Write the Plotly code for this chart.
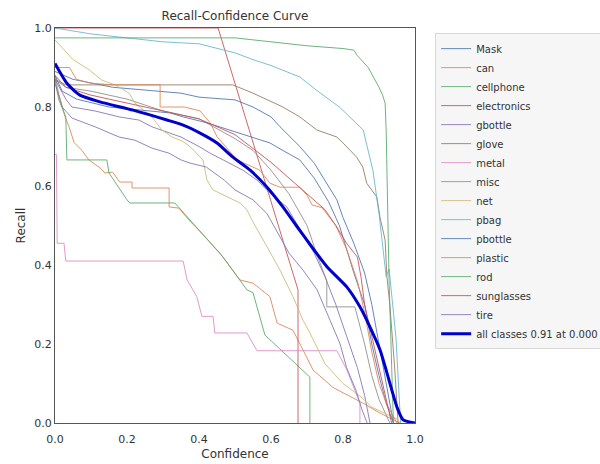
import plotly.graph_objects as go

# ---------------- data (confidence, recall) per class ----------------
CLASS_NAMES = ["Mask", "can", "cellphone", "electronics", "gbottle", "glove", "metal",
               "misc", "net", "pbag", "pbottle", "plastic", "rod", "sunglasses", "tire"]

MASK_CONF = [0, 0.05, 0.16, 0.35, 0.40, 0.50, 0.55, 0.60, 0.625, 0.68, 0.72, 0.755, 0.783, 0.80, 0.83, 0.86, 0.88, 0.90, 0.92, 0.94]
MASK_RECALL = [0.89, 0.87, 0.85, 0.835, 0.825, 0.818, 0.80, 0.775, 0.75, 0.70, 0.658, 0.607, 0.565, 0.52, 0.455, 0.38, 0.30, 0.20, 0.10, 0.0]

CAN_CONF = [0, 0.01, 0.028, 0.039, 0.053, 0.075, 0.094, 0.122, 0.139, 0.16, 0.18, 0.214, 0.214, 0.317, 0.317, 0.344, 0.372, 0.408, 0.458, 0.514, 0.55, 0.597, 0.617, 0.661, 0.689, 0.717, 0.772, 0.856, 0.903, 0.958]
CAN_RECALL = [0.88, 0.835, 0.775, 0.75, 0.71, 0.69, 0.666, 0.648, 0.633, 0.635, 0.61, 0.61, 0.595, 0.595, 0.547, 0.544, 0.514, 0.48, 0.43, 0.362, 0.354, 0.32, 0.253, 0.235, 0.185, 0.134, 0.09, 0.05, 0.025, 0.0]

CELLPHONE_CONF = [0, 0.01, 0.03, 0.033, 0.144, 0.15, 0.2, 0.208, 0.333, 0.375, 0.467, 0.533, 0.55, 0.583, 0.708, 0.708]
CELLPHONE_RECALL = [0.87, 0.82, 0.775, 0.666, 0.666, 0.633, 0.565, 0.557, 0.557, 0.514, 0.42, 0.337, 0.33, 0.223, 0.116, 0.0]

ELECTRONICS_CONF = [0, 0.453, 0.675, 0.675]
ELECTRONICS_RECALL = [1.0, 1.0, 0.337, 0.0]

GBOTTLE_CONF = [0, 0.03, 0.047, 0.111, 0.178, 0.233, 0.269, 0.317, 0.35, 0.40, 0.431, 0.467, 0.522, 0.561, 0.597, 0.644, 0.68, 0.72, 0.75, 0.78, 0.81, 0.84, 0.86, 0.875]
GBOTTLE_RECALL = [0.87, 0.82, 0.80, 0.79, 0.775, 0.767, 0.75, 0.734, 0.724, 0.70, 0.683, 0.666, 0.64, 0.615, 0.582, 0.547, 0.49, 0.43, 0.37, 0.30, 0.22, 0.14, 0.07, 0.0]

GLOVE_CONF = [0, 0.03, 0.494, 0.55, 0.633, 0.68, 0.727, 0.783, 0.80, 0.838, 0.855, 0.866, 0.894, 0.903, 0.917, 0.922, 0.93, 0.944, 0.953]
GLOVE_RECALL = [0.87, 0.856, 0.856, 0.835, 0.80, 0.775, 0.742, 0.724, 0.709, 0.673, 0.648, 0.607, 0.572, 0.52, 0.463, 0.37, 0.30, 0.134, 0.0]

METAL_CONF = [0, 0.004, 0.006, 0.025, 0.03, 0.356, 0.367, 0.394, 0.408, 0.439, 0.444, 0.533, 0.561, 0.783, 0.811, 0.839, 0.847, 0.847]
METAL_RECALL = [0.68, 0.68, 0.455, 0.455, 0.41, 0.41, 0.362, 0.32, 0.27, 0.27, 0.228, 0.228, 0.183, 0.183, 0.134, 0.066, 0.05, 0.0]

MISC_CONF = [0, 0.03, 0.10, 0.20, 0.30, 0.40, 0.50, 0.55, 0.60, 0.65, 0.70, 0.73, 0.755, 0.755, 0.833, 0.86, 0.88, 0.90, 0.93]
MISC_RECALL = [0.87, 0.85, 0.84, 0.82, 0.79, 0.77, 0.72, 0.69, 0.64, 0.58, 0.50, 0.42, 0.36, 0.294, 0.294, 0.20, 0.12, 0.06, 0.0]

NET_CONF = [0, 0.05, 0.095, 0.13, 0.167, 0.206, 0.222, 0.269, 0.297, 0.325, 0.353, 0.375, 0.411, 0.422, 0.439, 0.478, 0.514, 0.533, 0.547, 0.589, 0.625, 0.661, 0.689, 0.708, 0.75, 0.80, 0.85, 0.88, 0.95, 0.96]
NET_RECALL = [0.97, 0.92, 0.894, 0.868, 0.856, 0.835, 0.81, 0.775, 0.742, 0.724, 0.714, 0.70, 0.666, 0.615, 0.59, 0.572, 0.557, 0.54, 0.514, 0.446, 0.387, 0.32, 0.26, 0.228, 0.15, 0.10, 0.066, 0.04, 0.01, 0.0]

PBAG_CONF = [0, 0.1, 0.2, 0.3, 0.4, 0.5, 0.55, 0.6, 0.68, 0.73, 0.79, 0.856, 0.883, 0.90, 0.92, 0.928, 0.947, 0.958, 0.96]
PBAG_RECALL = [1.0, 0.985, 0.975, 0.965, 0.96, 0.937, 0.92, 0.905, 0.876, 0.84, 0.80, 0.742, 0.64, 0.53, 0.37, 0.39, 0.218, 0.015, 0.0]

PBOTTLE_CONF = [0, 0.02, 0.06, 0.15, 0.319, 0.356, 0.422, 0.486, 0.55, 0.597, 0.633, 0.68, 0.72, 0.76, 0.79, 0.81, 0.83, 0.86, 0.88, 0.90, 0.92, 0.94]
PBOTTLE_RECALL = [0.88, 0.84, 0.82, 0.80, 0.785, 0.775, 0.76, 0.742, 0.724, 0.709, 0.69, 0.666, 0.62, 0.56, 0.50, 0.44, 0.38, 0.30, 0.20, 0.12, 0.05, 0.0]

PLASTIC_CONF = [0, 0.04, 0.06, 0.10, 0.167, 0.292, 0.292, 0.36, 0.403, 0.431, 0.45, 0.506, 0.569, 0.597, 0.625, 0.68, 0.70, 0.714, 0.742, 0.78, 0.81, 0.84, 0.86, 0.88, 0.90, 0.92, 0.95]
PLASTIC_RECALL = [0.90, 0.90, 0.87, 0.86, 0.856, 0.856, 0.80, 0.80, 0.79, 0.76, 0.725, 0.666, 0.64, 0.607, 0.597, 0.597, 0.577, 0.552, 0.545, 0.50, 0.44, 0.36, 0.28, 0.18, 0.10, 0.05, 0.0]

ROD_CONF = [0, 0.5, 0.6, 0.7, 0.8, 0.83, 0.84, 0.855, 0.87, 0.90, 0.91, 0.917, 0.92, 0.928, 0.94]
ROD_RECALL = [0.975, 0.975, 0.965, 0.955, 0.948, 0.944, 0.93, 0.914, 0.90, 0.85, 0.83, 0.81, 0.74, 0.36, 0.0]

SUNGLASSES_CONF = [0, 0.03, 0.10, 0.20, 0.30, 0.40, 0.50, 0.60, 0.65, 0.70, 0.75, 0.78, 0.81, 0.84, 0.85, 0.86, 0.88, 0.90, 0.92, 0.935]
SUNGLASSES_RECALL = [0.88, 0.85, 0.83, 0.81, 0.79, 0.77, 0.73, 0.66, 0.62, 0.58, 0.54, 0.50, 0.455, 0.42, 0.37, 0.30, 0.22, 0.14, 0.06, 0.0]

TIRE_CONF = [0, 0.02, 0.047, 0.111, 0.178, 0.222, 0.269, 0.317, 0.35, 0.375, 0.42, 0.47, 0.50, 0.55, 0.589, 0.62, 0.65, 0.689, 0.728, 0.764, 0.792, 0.81, 0.836, 0.853, 0.867]
TIRE_RECALL = [0.86, 0.80, 0.772, 0.75, 0.724, 0.716, 0.696, 0.683, 0.666, 0.658, 0.648, 0.615, 0.59, 0.565, 0.53, 0.48, 0.43, 0.387, 0.337, 0.26, 0.20, 0.14, 0.083, 0.033, 0.0]

ALL_CONF = [0, 0.033, 0.069, 0.125, 0.217, 0.311, 0.356, 0.403, 0.45, 0.494, 0.542, 0.589, 0.633, 0.67, 0.71, 0.756, 0.811, 0.847, 0.875, 0.903, 0.922, 0.95, 0.967, 1.0]
ALL_RECALL = [0.91, 0.86, 0.83, 0.813, 0.792, 0.767, 0.754, 0.734, 0.709, 0.673, 0.64, 0.597, 0.547, 0.50, 0.45, 0.395, 0.344, 0.294, 0.243, 0.185, 0.127, 0.04, 0.008, 0.0]
ALL_LABEL = "all classes 0.91 at 0.000"

SERIES = [
    (MASK_CONF, MASK_RECALL), (CAN_CONF, CAN_RECALL), (CELLPHONE_CONF, CELLPHONE_RECALL),
    (ELECTRONICS_CONF, ELECTRONICS_RECALL), (GBOTTLE_CONF, GBOTTLE_RECALL), (GLOVE_CONF, GLOVE_RECALL),
    (METAL_CONF, METAL_RECALL), (MISC_CONF, MISC_RECALL), (NET_CONF, NET_RECALL),
    (PBAG_CONF, PBAG_RECALL), (PBOTTLE_CONF, PBOTTLE_RECALL), (PLASTIC_CONF, PLASTIC_RECALL),
    (ROD_CONF, ROD_RECALL), (SUNGLASSES_CONF, SUNGLASSES_RECALL), (TIRE_CONF, TIRE_RECALL),
]

PALETTE = ["#4C72B0", "#DD8452", "#55A868", "#C44E52", "#8172B3", "#937860",
           "#DA8BC3", "#8C8C8C", "#CCB974", "#64B5CD"]

FONT = "DejaVu Sans"

fig = go.Figure()
for i, (name, (cx, ry)) in enumerate(zip(CLASS_NAMES, SERIES)):
    fig.add_trace(go.Scatter(x=cx, y=ry, mode="lines", name=name, opacity=0.85,
                             line=dict(color=PALETTE[i % len(PALETTE)], width=1)))
fig.add_trace(go.Scatter(x=ALL_CONF, y=ALL_RECALL, mode="lines", name=ALL_LABEL,
                         line=dict(color="#0000cc", width=3, shape="spline", smoothing=0.6)))

axis_common = dict(range=[0, 1], dtick=0.2, tickformat=".1f", showgrid=False, zeroline=False,
                   showline=True, mirror=True, linecolor="#555555", linewidth=1,
                   tickfont=dict(family=FONT, size=11, color="#333333"),
                   title_font=dict(family=FONT, size=12, color="#333333"))

fig.update_layout(
    width=600, height=464,
    margin=dict(l=55, r=185, t=28, b=41, autoexpand=False),
    paper_bgcolor="white", plot_bgcolor="white",
    title=dict(text="Recall-Confidence Curve", x=(235) / 600, xanchor="center",
               y=1 - 16 / 464, yanchor="middle",
               font=dict(family=FONT, size=12, color="#333333")),
    xaxis=dict(title=dict(text="Confidence", standoff=4), ticks="outside", ticklen=6,
               tickcolor="rgba(0,0,0,0)", **axis_common),
    yaxis=dict(title=dict(text="Recall", standoff=6), ticks="", **axis_common),
    legend=dict(x=1.056, y=0.987, xanchor="left", yanchor="top",
                bgcolor="#f6f6f6", bordercolor="#d8d8d8", borderwidth=1,
                font=dict(family=FONT, size=10, color="#333333"), itemwidth=30),
    showlegend=True,
)

fig.write_html("out.html")
